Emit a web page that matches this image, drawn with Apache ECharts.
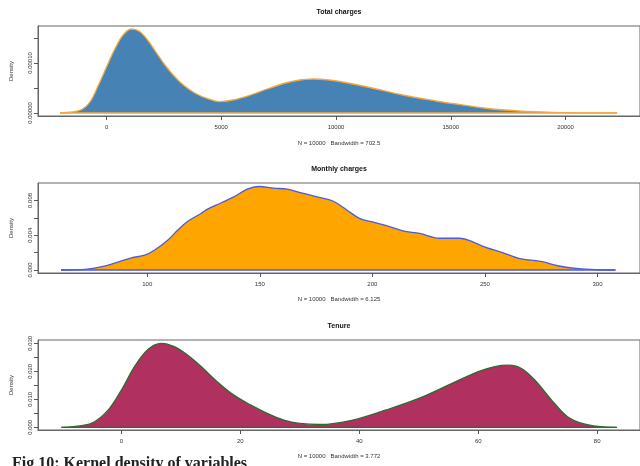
<!DOCTYPE html>
<html>
<head>
<meta charset="utf-8">
<script src="https://cdn.jsdelivr.net/npm/echarts@6/dist/echarts.min.js"></script>
<style>html,body{margin:0;padding:0;background:#fff;}#c{width:640px;height:466px;}</style>
</head>
<body>
<div id="c"></div>
<script>
// ---- Data ----
const titles = ["Total charges", "Monthly charges", "Tenure"];
const subtitles = ["N = 10000   Bandwidth = 702.5", "N = 10000   Bandwidth = 6.125", "N = 10000   Bandwidth = 3.772"];
const caption = "Fig 10: Kernel density of variables";

const totalX = [-2030, -1500, -1082, -722, -361, 0, 361, 722, 1082, 1443, 1804, 2165, 2525, 2886, 3247, 3608, 3968, 4329, 4900, 5500, 6277, 7000, 7720, 8300, 9000, 9700, 10173, 11472, 12900, 14358, 15065, 16522, 17965, 19400, 20870, 22250];
const totalY = [0.0000005, 0.000002, 0.000007, 0.000022, 0.000055, 0.000092, 0.000128, 0.000156, 0.000168, 0.000163, 0.000145, 0.000121, 0.000097, 0.000077, 0.00006, 0.000047, 0.000037, 0.00003, 0.0000228, 0.000026, 0.000036, 0.000048, 0.000059, 0.000065, 0.000068, 0.000066, 0.000063, 0.000051, 0.000036, 0.000024, 0.000019, 0.0000095, 0.000004, 0.0000012, 0.0000003, 0];

const monthlyX = [61.7, 72.4, 79.8, 87.2, 93, 98.9, 103.3, 109.2, 113.6, 118, 123.9, 126.8, 132.7, 138.5, 144.4, 149.6, 156.2, 162.1, 168, 175.4, 182.7, 188.6, 194.5, 200.4, 206.3, 213.6, 221, 229.8, 238.7, 243, 250.4, 257.8, 265.1, 275.4, 282.8, 291.6, 300.4, 308];
const monthlyY = [0, 0.00008, 0.00038, 0.00092, 0.0014, 0.0017, 0.0023, 0.00345, 0.0046, 0.0056, 0.0065, 0.007, 0.0077, 0.0084, 0.0093, 0.0096, 0.0094, 0.0093, 0.0089, 0.0084, 0.0079, 0.0069, 0.0059, 0.0055, 0.0051, 0.0045, 0.0042, 0.00365, 0.00365, 0.0034, 0.0026, 0.002, 0.00134, 0.00096, 0.00046, 0.00015, 0.00003, 0];

const tenureX = [-10.1, -6.7, -4.5, -2.2, 0, 2.2, 4.5, 6.7, 8.9, 11.1, 13.4, 16.1, 18.9, 21.7, 24.5, 27.3, 30, 33.4, 38.9, 44.5, 50, 55.6, 60, 62.8, 65, 67.2, 69.5, 72.3, 75, 77.8, 80.6, 83.3];
const tenureY = [0, 0.0006, 0.002, 0.0062, 0.0133, 0.0217, 0.0279, 0.030, 0.0288, 0.0258, 0.0217, 0.0163, 0.0115, 0.008, 0.005, 0.0026, 0.0014, 0.001, 0.0026, 0.0062, 0.0103, 0.0157, 0.0199, 0.0217, 0.0222, 0.0211, 0.0169, 0.0098, 0.0038, 0.0012, 0.0002, 0];

const xTicks = [[0, 5000, 10000, 15000, 20000], [100, 150, 200, 250, 300], [0, 20, 40, 60, 80]];
const yTicks = [[0, 0.00005, 0.0001, 0.00015], [0, 0.002, 0.004, 0.006, 0.008], [0, 0.005, 0.01, 0.015, 0.02, 0.025, 0.03]];
const yLabels = [[0, 0.0001], [0, 0.004, 0.008], [0, 0.01, 0.02, 0.03]];
const yDigits = [5, 3, 3];

// ---- Layout / style ----
const xs = [totalX, monthlyX, tenureX];
const ys = [totalY, monthlyY, tenureY];
const fills = ["#4682B4", "#FFA500", "#B03060"];
const borders = ["#F2A93B", "#4A5BE0", "#2F6B2F"];
const tops = [26, 183, 340];
const xRanges = [[-2987, 23247], [51.46, 318.9], [-14.03, 87.2]];
const yRanges = [[-0.000006, 0.000174], [-0.000345, 0.0100], [-0.00096, 0.03118]];
const titleY = [12, 169, 326];
const subY = [143, 299, 456];

const grids = [], xAxes = [], yAxes = [], series = [], graphics = [];
for (let i = 0; i < 3; i++) {
  grids.push({left: 36, right: -2, top: tops[i], height: 90, show: true, borderColor: '#666', borderWidth: 1, containLabel: false});
  xAxes.push({
    type: 'value', gridIndex: i, min: xRanges[i][0], max: xRanges[i][1],
    splitLine: {show: false},
    axisLine: {show: true, onZero: false, lineStyle: {color: '#666'}},
    axisTick: {show: true, length: 4, lineStyle: {color: '#555'}, customValues: xTicks[i]},
    axisLabel: {fontSize: 6, color: '#333', margin: 8, fontFamily: 'Liberation Sans', customValues: xTicks[i], formatter: v => String(v)}
  });
  const d = yDigits[i];
  yAxes.push({
    type: 'value', gridIndex: i, min: yRanges[i][0], max: yRanges[i][1],
    name: 'Density', nameLocation: 'middle', nameGap: 24,
    nameTextStyle: {fontSize: 6, color: '#333', fontFamily: 'Liberation Sans'},
    splitLine: {show: false},
    axisLine: {show: true, onZero: false, lineStyle: {color: '#666'}},
    axisTick: {show: true, length: 4, lineStyle: {color: '#555'}, customValues: yTicks[i]},
    axisLabel: {fontSize: 6, color: '#333', rotate: 90, margin: 5, fontFamily: 'Liberation Sans',
      customValues: yLabels[i], formatter: v => Number(v).toFixed(d)}
  });
  const data = xs[i].map((x, k) => [x, ys[i][k]]);
  series.push({
    type: 'line', xAxisIndex: i, yAxisIndex: i, data: data, smooth: 0.35,
    showSymbol: false, silent: true,
    lineStyle: {color: borders[i], width: 1.3},
    areaStyle: {color: fills[i], opacity: 1, origin: 0}
  });
  const n = xs[i].length;
  series.push({
    type: 'line', xAxisIndex: i, yAxisIndex: i, showSymbol: false, silent: true,
    data: [[xs[i][0], 0], [xs[i][n - 1], 0]],
    lineStyle: {color: borders[i], width: 1.3}
  });
  graphics.push({type: 'text', x: 339, y: titleY[i], style: {text: titles[i], align: 'center', verticalAlign: 'middle', font: 'bold 7px "Liberation Sans"', fill: '#111'}});
  graphics.push({type: 'text', x: 339, y: subY[i], style: {text: subtitles[i], align: 'center', verticalAlign: 'middle', font: '6px "Liberation Sans"', fill: '#333'}});
}
graphics.push({type: 'text', x: 12, y: 456, style: {text: caption, align: 'left', verticalAlign: 'top', font: 'bold 16px "Liberation Serif"', fill: '#222'}});

const chart = echarts.init(document.getElementById('c'), null, {renderer: 'canvas'});
chart.setOption({
  animation: false,
  backgroundColor: '#fff',
  grid: grids, xAxis: xAxes, yAxis: yAxes, series: series, graphic: graphics
});
</script>
</body>
</html>
